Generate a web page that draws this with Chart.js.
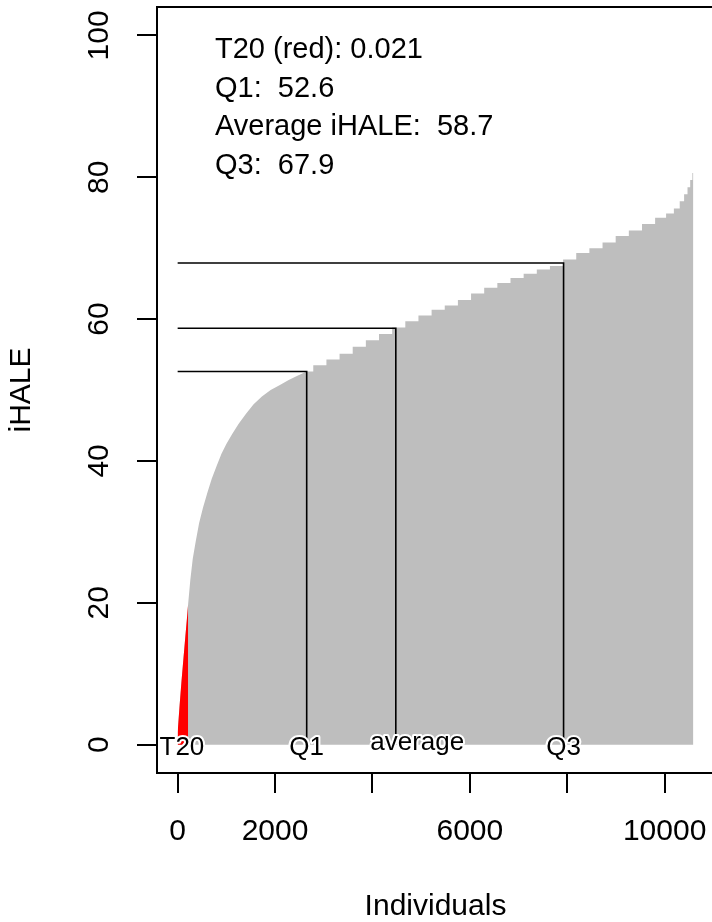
<!DOCTYPE html>
<html>
<head>
<meta charset="utf-8">
<title>iHALE by individual</title>
<script src="https://cdn.jsdelivr.net/npm/chart.js@4.4.1/dist/chart.umd.min.js"></script>
<style>
  html, body { margin: 0; padding: 0; background: #fff; overflow: hidden; }
  #wrap { width: 712px; height: 922px; overflow: hidden; }
  canvas { display: block; }
</style>
</head>
<body>
<div id="wrap"><canvas id="myChart" width="724" height="922"></canvas></div>
<script>
// individuals sorted by iHALE, and the iHALE
var individuals = [0, 40, 80, 120, 160, 200, 215, 260, 310, 370, 440, 520, 610, 700, 800, 900,
  1000, 1120, 1250, 1400, 1560, 1730, 1910, 2100, 2280, 2460,
  2650, 2920, 3190, 3460, 3730, 4000, 4270, 4540, 4810, 5080,
  5350, 5620, 5890, 6160, 6430, 6700, 6970, 7240, 7510, 7780,
  8050, 8320, 8590, 8860, 9130, 9400, 9670, 9940, 10120, 10260,
  10360, 10440, 10500, 10550, 10590]
var ihale = [1.7, 5.5, 9.0, 12.2, 15.4, 18.5, 19.8, 23.2, 26.2, 28.6, 31.2, 33.4, 35.5, 37.5, 39.3, 41.0,
  42.4, 43.8, 45.2, 46.6, 48.0, 49.1, 50.0, 50.7, 51.4, 52.0,
  52.6, 53.5, 54.3, 55.1, 56.1, 57.0, 57.9, 58.8, 59.7, 60.5,
  61.3, 61.9, 62.7, 63.6, 64.4, 65.1, 65.8, 66.4, 67.0, 67.5,
  68.4, 69.3, 70.0, 70.8, 71.7, 72.5, 73.4, 74.3, 74.9, 75.6,
  76.6, 77.6, 78.6, 79.6, 80.6]

var t20Limit = 20
var t20Share = 0.021
var q1 = 52.6
var average = 58.7
var q3 = 67.9
// where each summary value is reached along the sorted individuals
var q1Pos = 2650
var averagePos = 4480
var q3Pos = 7925

var markerLabels = ['T20', 'Q1', 'average', 'Q3']
var markerLabelPos = [88, 2650, 4920, 7925]

var xTickValues = [0, 2000, 4000, 6000, 8000, 10000]
var xTickLabels = ['0', '2000', '', '6000', '', '10000']
var yTickValues = [0, 20, 40, 60, 80, 100]

var FONT = '"Liberation Sans", Arial, sans-serif'

function points(from, to) {
  var out = []
  for (let i = from; i < to; i++) {
    out.push({x: individuals[i], y: ihale[i]})
  }
  return out
}

function lastBelow(limit) {
  var k = 0
  for (let i = 0; i < ihale.length; i++) {
    if (ihale[i] < limit) k = i
  }
  return k
}

function bracket(level, pos) {
  return [{x: 0, y: level}, {x: pos, y: level}, {x: pos, y: 0}]
}

var q1Index = individuals.indexOf(q1Pos)
var redEnd = lastBelow(t20Limit)

function lineSet(data) {
  return {
    data: data, borderColor: '#000', borderWidth: 1.6, pointRadius: 0,
    fill: false, order: 0
  }
}

// text and box drawn the way R's base graphics leaves them
var rDecor = {
  id: 'rDecor',
  afterDatasetsDraw(chart) {
    var ctx = chart.ctx
    var x = chart.scales.x
    var y = chart.scales.y
    ctx.save()
    ctx.textAlign = 'center'
    ctx.textBaseline = 'alphabetic'
    ctx.font = '26px ' + FONT
    ctx.lineJoin = 'round'
    for (let i = 0; i < markerLabels.length; i++) {
      var px = x.getPixelForValue(markerLabelPos[i])
      var py = y.getPixelForValue(0) + (markerLabels[i] == 'average' ? 5 : 10)
      ctx.strokeStyle = '#fff'
      ctx.lineWidth = 4
      ctx.strokeText(markerLabels[i], px, py)
      ctx.fillStyle = '#000'
      ctx.fillText(markerLabels[i], px, py)
    }

    var lines = [
      'T20 (red): ' + t20Share.toFixed(3),
      'Q1:  ' + q1.toFixed(1),
      'Average iHALE:  ' + average.toFixed(1),
      'Q3:  ' + q3.toFixed(1)
    ]
    ctx.textAlign = 'left'
    ctx.font = '29px ' + FONT
    ctx.fillStyle = '#000'
    for (let i = 0; i < lines.length; i++) {
      ctx.fillText(lines[i], 215, 58 + i * 38.6)
    }
    ctx.restore()
  },
  afterDraw(chart) {
    var a = chart.chartArea
    var ctx = chart.ctx
    ctx.save()
    ctx.strokeStyle = '#000'
    ctx.lineWidth = 2
    ctx.strokeRect(a.left, a.top, a.right - a.left, a.bottom - a.top)
    ctx.restore()
  }
}

var ctx = document.getElementById('myChart').getContext('2d')
var chart = new Chart(ctx, {
  type: 'line',
  data: {
    datasets: [
      lineSet(bracket(q1, q1Pos)),
      lineSet(bracket(average, averagePos)),
      lineSet(bracket(q3, q3Pos)),
      {
        // T20 individuals
        data: points(0, redEnd + 1),
        backgroundColor: '#ff0000', borderColor: 'rgba(0,0,0,0)', borderWidth: 0,
        pointRadius: 0, fill: 'origin', order: 1
      },
      {
        data: points(0, q1Index + 1),
        backgroundColor: '#bebebe', borderColor: 'rgba(0,0,0,0)', borderWidth: 0,
        pointRadius: 0, fill: 'origin', order: 2
      },
      {
        data: points(q1Index, individuals.length),
        backgroundColor: '#bebebe', borderColor: 'rgba(0,0,0,0)', borderWidth: 0,
        pointRadius: 0, fill: 'origin', stepped: 'middle', order: 2
      }
    ]
  },
  options: {
    responsive: false,
    animation: false,
    devicePixelRatio: 1,
    layout: { padding: { top: 7, right: 10, left: 0, bottom: 0 } },
    plugins: { legend: { display: false }, tooltip: { enabled: false } },
    scales: {
      x: {
        type: 'linear', min: -424, max: 11014,
        afterBuildTicks: function (s) { s.ticks = xTickValues.map(v => ({value: v})) },
        afterFit: function (s) { s.height = 149; s.paddingLeft = 0; s.paddingRight = 0 },
        border: { display: false },
        grid: { drawOnChartArea: false, drawTicks: true, tickLength: 20, color: '#000', lineWidth: 2 },
        ticks: {
          autoSkip: false, maxRotation: 0, padding: 21, color: '#000',
          font: { family: FONT, size: 30 },
          callback: function (v, i) { return xTickLabels[i] }
        },
        title: {
          display: true, text: 'Individuals', color: '#000',
          font: { family: FONT, size: 30, lineHeight: 1 }, padding: 0
        }
      },
      y: {
        type: 'linear', min: -4, max: 104,
        afterBuildTicks: function (s) { s.ticks = yTickValues.map(v => ({value: v})) },
        afterFit: function (s) { s.width = 157; s.paddingTop = 0; s.paddingBottom = 0 },
        border: { display: false },
        grid: { drawOnChartArea: false, drawTicks: true, tickLength: 20, color: '#000', lineWidth: 2 },
        ticks: {
          minRotation: 90, maxRotation: 90, crossAlign: 'center', padding: 12, color: '#000',
          font: { family: FONT, size: 30 }
        },
        title: {
          display: true, text: 'iHALE', color: '#000',
          font: { family: FONT, size: 30, lineHeight: 1 }, padding: { top: 7, bottom: 0 }
        }
      }
    }
  },
  plugins: [rDecor]
})
</script>
</body>
</html>
